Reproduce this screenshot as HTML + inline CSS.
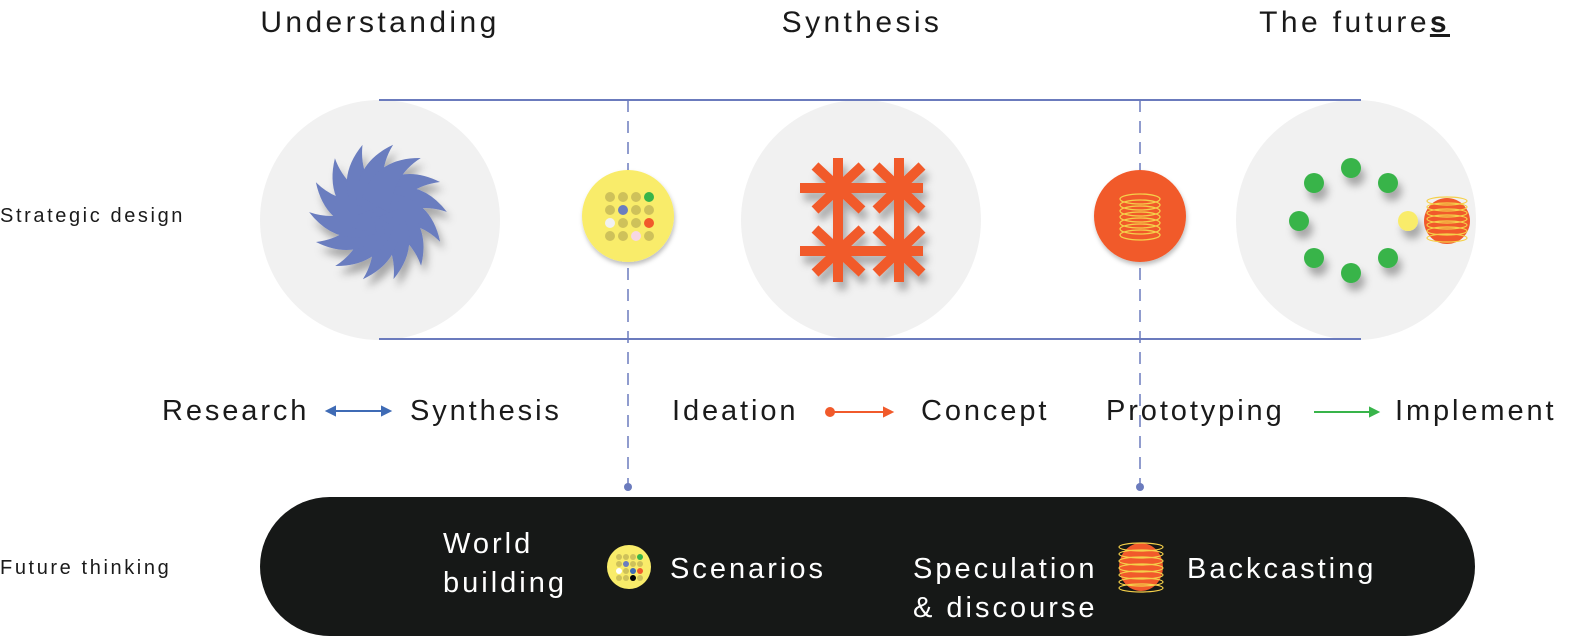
<!DOCTYPE html>
<html><head><meta charset="utf-8"><style>
html,body{margin:0;padding:0;background:#fff;overflow:hidden;}
svg{display:block;font-family:"Liberation Sans",sans-serif;}
.t{font-size:29px;fill:#1a1a1a;letter-spacing:2.9px;}
.w{font-size:29px;fill:#fff;letter-spacing:3px;}
.s{font-size:20px;fill:#1a1a1a;letter-spacing:2.6px;}
</style></head><body>
<svg width="1583" height="643" viewBox="0 0 1583 643" xmlns="http://www.w3.org/2000/svg">
<defs>
<filter id="sh" x="-30%" y="-30%" width="170%" height="170%"><feDropShadow dx="4" dy="8" stdDeviation="4" flood-color="#000" flood-opacity="0.3"/></filter>
<filter id="sh2" x="-30%" y="-30%" width="170%" height="170%"><feDropShadow dx="1" dy="3" stdDeviation="2" flood-color="#000" flood-opacity="0.25"/></filter>
<path id="arm" d="M -8,-20 Q 22,-50 62,-30 Q 28,-26 10,6 Z" fill="#6a7dbf"/>
</defs>
<text x="380" y="32" text-anchor="middle" class="t" style="font-size:30px;letter-spacing:3.4px">Understanding</text>
<text x="862" y="32" text-anchor="middle" class="t" style="font-size:30px;letter-spacing:3.4px">Synthesis</text>
<text x="1450" y="32" text-anchor="end" class="t" style="font-size:30px;letter-spacing:3.4px">The future<tspan font-weight="bold" text-decoration="underline">s</tspan></text>
<circle cx="380" cy="220" r="120" fill="#f1f1f1"/>
<circle cx="861" cy="220" r="120" fill="#f1f1f1"/>
<circle cx="1356" cy="220" r="120" fill="#f1f1f1"/>
<line x1="379" y1="100" x2="1361" y2="100" stroke="#6b7bbd" stroke-width="2"/>
<line x1="379" y1="339" x2="1361" y2="339" stroke="#6b7bbd" stroke-width="2"/>
<line x1="628" y1="100" x2="628" y2="487" stroke="#6b7bbd" stroke-width="1.5" stroke-dasharray="12,9"/>
<line x1="1140" y1="100" x2="1140" y2="487" stroke="#6b7bbd" stroke-width="1.5" stroke-dasharray="12,9"/>
<circle cx="628" cy="487" r="4" fill="#6b7bbd"/>
<circle cx="1140" cy="487" r="4" fill="#6b7bbd"/>
<g filter="url(#sh)" transform="translate(378,212)">
<circle r="26" fill="#6a7dbf"/>
<use href="#arm" transform="rotate(0)"/><use href="#arm" transform="rotate(25.7)"/><use href="#arm" transform="rotate(51.4)"/><use href="#arm" transform="rotate(77.1)"/><use href="#arm" transform="rotate(102.8)"/><use href="#arm" transform="rotate(128.5)"/><use href="#arm" transform="rotate(154.2)"/><use href="#arm" transform="rotate(180)"/><use href="#arm" transform="rotate(205.7)"/><use href="#arm" transform="rotate(231.4)"/><use href="#arm" transform="rotate(257.1)"/><use href="#arm" transform="rotate(282.8)"/><use href="#arm" transform="rotate(308.5)"/><use href="#arm" transform="rotate(334.2)"/>
</g>
<g filter="url(#sh)" stroke="#f15a2b" stroke-width="10">
<line x1="838" y1="158" x2="838" y2="282"/><line x1="899" y1="158" x2="899" y2="282"/>
<line x1="800" y1="188" x2="923" y2="188"/><line x1="800" y1="251" x2="923" y2="251"/>
<line x1="815" y1="166" x2="862" y2="210"/><line x1="862" y1="166" x2="815" y2="210"/>
<line x1="876" y1="166" x2="922" y2="210"/><line x1="922" y1="166" x2="876" y2="210"/>
<line x1="815" y1="229" x2="862" y2="273"/><line x1="862" y1="229" x2="815" y2="273"/>
<line x1="876" y1="229" x2="922" y2="273"/><line x1="922" y1="229" x2="876" y2="273"/>
</g>
<g filter="url(#sh2)"><circle cx="628" cy="216" r="46" fill="#f9ec6a"/></g>
<g>
<circle cx="610" cy="197" r="5" fill="#cec15a"/><circle cx="623" cy="197" r="5" fill="#cec15a"/><circle cx="636" cy="197" r="5" fill="#cec15a"/><circle cx="649" cy="197" r="5" fill="#38b44a"/>
<circle cx="610" cy="210" r="5" fill="#cec15a"/><circle cx="623" cy="210" r="5" fill="#6a7dbf"/><circle cx="636" cy="210" r="5" fill="#cec15a"/><circle cx="649" cy="210" r="5" fill="#cec15a"/>
<circle cx="610" cy="223" r="5" fill="#f1f1f1"/><circle cx="623" cy="223" r="5" fill="#cec15a"/><circle cx="636" cy="223" r="5" fill="#cec15a"/><circle cx="649" cy="223" r="5" fill="#f15a2b"/>
<circle cx="610" cy="236" r="5" fill="#cec15a"/><circle cx="623" cy="236" r="5" fill="#cec15a"/><circle cx="636" cy="236" r="5" fill="#f7d7e3"/><circle cx="649" cy="236" r="5" fill="#cec15a"/>
</g>
<g filter="url(#sh2)"><circle cx="1140" cy="216" r="46" fill="#f15a2b"/></g>
<g fill="none" stroke="#f5d04a" stroke-width="1.3">
<ellipse cx="1140" cy="199" rx="20" ry="5"/><ellipse cx="1140" cy="205" rx="20" ry="5"/><ellipse cx="1140" cy="211" rx="20" ry="5"/><ellipse cx="1140" cy="217" rx="20" ry="5"/><ellipse cx="1140" cy="223" rx="20" ry="5"/><ellipse cx="1140" cy="229" rx="20" ry="5"/><ellipse cx="1140" cy="235" rx="20" ry="5"/>
</g>
<g filter="url(#sh)" fill="#38b44a">
<circle cx="1351" cy="168" r="10"/><circle cx="1388" cy="183" r="10"/><circle cx="1314" cy="183" r="10"/><circle cx="1299" cy="221" r="10"/><circle cx="1314" cy="258" r="10"/><circle cx="1351" cy="273" r="10"/><circle cx="1388" cy="258" r="10"/>
<circle cx="1408" cy="221" r="10" fill="#f9ec6a"/>
</g>
<circle cx="1447" cy="221" r="23" fill="#f15a2b"/>
<g fill="none" stroke="#f5d04a" stroke-width="1.2">
<ellipse cx="1447" cy="201" rx="20" ry="4"/><ellipse cx="1447" cy="207" rx="20" ry="4"/><ellipse cx="1447" cy="213" rx="20" ry="4"/><ellipse cx="1447" cy="219" rx="20" ry="4"/><ellipse cx="1447" cy="225" rx="20" ry="4"/><ellipse cx="1447" cy="231" rx="20" ry="4"/><ellipse cx="1447" cy="238" rx="20" ry="4"/>
</g>
<text x="0" y="222" class="s">Strategic design</text>
<text x="0" y="574" class="s">Future thinking</text>
<text x="162" y="420" class="t">Research</text>
<g stroke="#3f6bb5" stroke-width="2" fill="#3f6bb5"><line x1="332" y1="411" x2="384" y2="411"/><path d="M327,411 l8,-4 v8z"/><path d="M390,411 l-8,-4 v8z"/></g>
<text x="410" y="420" class="t">Synthesis</text>
<text x="672" y="420" class="t">Ideation</text>
<g stroke="#f15a2b" stroke-width="2" fill="#f15a2b"><circle cx="830" cy="412" r="4"/><line x1="830" y1="412" x2="886" y2="412"/><path d="M892,412 l-8,-4 v8z"/></g>
<text x="921" y="420" class="t">Concept</text>
<text x="1106" y="420" class="t">Prototyping</text>
<g stroke="#38b44a" stroke-width="2" fill="#38b44a"><line x1="1314" y1="412" x2="1372" y2="412"/><path d="M1378,412 l-8,-4 v8z"/></g>
<text x="1395" y="420" class="t">Implement</text>
<rect x="260" y="497" width="1215" height="139" rx="69.5" fill="#161817"/>
<text x="443" y="553" class="w">World</text>
<text x="443" y="592" class="w">building</text>
<circle cx="629" cy="567" r="22" fill="#f9ec6a"/>
<g>
<circle cx="619" cy="557" r="3" fill="#cec15a"/><circle cx="626" cy="557" r="3" fill="#cec15a"/><circle cx="633" cy="557" r="3" fill="#cec15a"/><circle cx="640" cy="557" r="3" fill="#38b44a"/>
<circle cx="619" cy="564" r="3" fill="#cec15a"/><circle cx="626" cy="564" r="3" fill="#6a7dbf"/><circle cx="633" cy="564" r="3" fill="#cec15a"/><circle cx="640" cy="564" r="3" fill="#cec15a"/>
<circle cx="619" cy="571" r="3" fill="#fff"/><circle cx="626" cy="571" r="3" fill="#cec15a"/><circle cx="633" cy="571" r="3" fill="#3f6bb5"/><circle cx="640" cy="571" r="3" fill="#f15a2b"/>
<circle cx="619" cy="578" r="3" fill="#cec15a"/><circle cx="626" cy="578" r="3" fill="#cec15a"/><circle cx="633" cy="578" r="3" fill="#000"/><circle cx="640" cy="578" r="3" fill="#cec15a"/>
</g>
<text x="670" y="578" class="w">Scenarios</text>
<text x="913" y="578" class="w">Speculation</text>
<text x="913" y="617" class="w">&amp; discourse</text>
<ellipse cx="1141" cy="567" rx="22" ry="24" fill="#f15a2b"/>
<g fill="none" stroke="#f5d04a" stroke-width="1.2">
<ellipse cx="1141" cy="547" rx="22" ry="4"/><ellipse cx="1141" cy="554" rx="22" ry="4"/><ellipse cx="1141" cy="561" rx="22" ry="4"/><ellipse cx="1141" cy="568" rx="22" ry="4"/><ellipse cx="1141" cy="575" rx="22" ry="4"/><ellipse cx="1141" cy="582" rx="22" ry="4"/><ellipse cx="1141" cy="588" rx="22" ry="4"/>
</g>
<text x="1187" y="578" class="w">Backcasting</text>
</svg>
</body></html>
